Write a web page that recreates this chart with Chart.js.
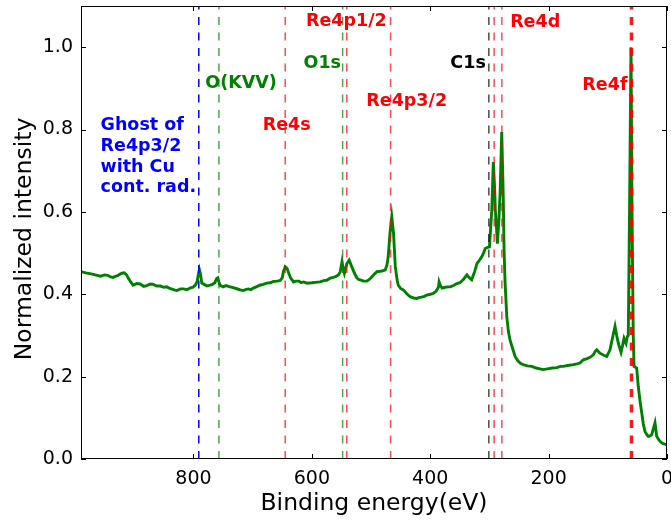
<!DOCTYPE html>
<html>
<head>
<meta charset="utf-8">
<script src="https://cdn.jsdelivr.net/npm/chart.js@4.4.1/dist/chart.umd.min.js"></script>
<style>
  html, body { margin: 0; padding: 0; background: #fff; }
  #wrap { width: 671px; height: 523px; }
</style>
</head>
<body>
<div id="wrap"><canvas id="canvas"></canvas></div>
<script>
// XPS survey spectrum
var energy = [990, 982, 975, 966, 957, 950, 945, 940, 936, 931, 928, 924, 921, 917, 913, 910, 906, 902, 896, 890, 884, 879, 873, 868, 862, 856, 850, 845, 840, 835, 831, 828, 822, 817, 811, 806, 801, 797, 794, 792, 790, 788, 786, 782, 777, 772, 768, 764, 761, 759, 757, 755, 750, 745, 741, 738, 733, 728, 722, 716, 711, 707, 703, 699, 694, 688, 682, 676, 670, 665, 659, 654, 650, 648, 645, 642, 640, 636, 631, 627, 622, 618, 614, 608, 600, 594, 586, 580, 575, 569, 564, 560, 555, 552, 549, 547, 545, 543, 541, 537, 534, 530, 527, 524, 521, 518, 513, 507, 503, 500, 495, 490, 484, 480, 476, 473, 471, 468, 465, 462, 459, 456, 454, 450, 445, 440, 434, 428, 423, 419, 415, 410, 406, 400, 395, 391, 389, 386, 385, 383, 380, 375, 370, 366, 360, 355, 350, 344, 338, 334, 330, 325, 321, 317, 313, 310, 307, 303, 300, 298, 296, 293.4, 291, 290, 288, 286.6, 284, 282, 279.2, 276.5, 275.3, 273.6, 270.7, 268, 265.2, 262.3, 259, 256.7, 251.6, 247, 242.7, 236, 228.5, 221, 214.5, 208.9, 202, 194, 186, 180, 175, 168, 158, 152, 147, 141.4, 135, 130, 124.5, 121, 118.7, 113.2, 107, 101.8, 96.3, 91.2, 87.8, 85, 82.2, 77.7, 75, 72.6, 69.2, 67, 65.4, 63.3, 60.8, 59.1, 57, 55.7, 51.2, 48.5, 45.5, 42.7, 40, 37.2, 33.5, 31.6, 28.5, 25.8, 22.8, 20.3, 17.4, 14.5, 11.8, 8, 4, 0.5];
var intensity = [0.455, 0.452, 0.450, 0.447, 0.444, 0.447, 0.446, 0.442, 0.441, 0.444, 0.445, 0.449, 0.451, 0.452, 0.447, 0.439, 0.430, 0.422, 0.426, 0.425, 0.419, 0.421, 0.425, 0.424, 0.420, 0.420, 0.417, 0.418, 0.414, 0.412, 0.410, 0.409, 0.413, 0.413, 0.411, 0.415, 0.417, 0.422, 0.430, 0.446, 0.460, 0.448, 0.427, 0.424, 0.420, 0.422, 0.424, 0.428, 0.438, 0.440, 0.430, 0.422, 0.418, 0.421, 0.419, 0.418, 0.416, 0.414, 0.411, 0.409, 0.412, 0.413, 0.411, 0.415, 0.418, 0.422, 0.424, 0.427, 0.428, 0.431, 0.432, 0.433, 0.440, 0.455, 0.467, 0.463, 0.455, 0.440, 0.430, 0.432, 0.432, 0.428, 0.430, 0.427, 0.428, 0.429, 0.430, 0.433, 0.434, 0.439, 0.441, 0.443, 0.447, 0.455, 0.479, 0.462, 0.451, 0.462, 0.474, 0.483, 0.472, 0.458, 0.448, 0.440, 0.436, 0.435, 0.432, 0.432, 0.436, 0.440, 0.448, 0.455, 0.456, 0.457, 0.459, 0.472, 0.491, 0.548, 0.588, 0.548, 0.467, 0.435, 0.422, 0.414, 0.410, 0.402, 0.394, 0.391, 0.390, 0.392, 0.393, 0.395, 0.398, 0.400, 0.402, 0.406, 0.410, 0.418, 0.430, 0.422, 0.415, 0.417, 0.418, 0.418, 0.422, 0.426, 0.428, 0.436, 0.447, 0.440, 0.435, 0.455, 0.475, 0.482, 0.491, 0.500, 0.511, 0.514, 0.515, 0.560, 0.604, 0.721, 0.650, 0.604, 0.560, 0.523, 0.580, 0.645, 0.794, 0.628, 0.510, 0.430, 0.346, 0.310, 0.289, 0.275, 0.260, 0.249, 0.238, 0.232, 0.229, 0.226, 0.225, 0.221, 0.219, 0.217, 0.219, 0.221, 0.222, 0.225, 0.225, 0.227, 0.229, 0.231, 0.233, 0.241, 0.244, 0.247, 0.253, 0.262, 0.265, 0.257, 0.252, 0.249, 0.265, 0.300, 0.322, 0.300, 0.281, 0.259, 0.276, 0.293, 0.281, 0.297, 0.300, 0.600, 1.000, 0.600, 0.300, 0.225, 0.221, 0.176, 0.140, 0.112, 0.085, 0.067, 0.058, 0.055, 0.056, 0.059, 0.075, 0.088, 0.055, 0.048, 0.043, 0.038, 0.036, 0.035];

// reference lines (binding energy) and which element they mark
var lineEnergy = [791, 757, 645, 548, 541, 467, 301, 292, 279, 60];
var lineKind = ['ghost', 'O', 'Re', 'O', 'Re', 'Re', 'C', 'Re', 'Re', 'Re4f'];

// annotations: text, left energy, baseline intensity
var labelText = ['Re4p1/2', 'Re4d', 'O1s', 'C1s', 'O(KVV)', 'Re4f', 'Re4p3/2', 'Re4s', 'Ghost of\nRe4p3/2\nwith Cu\ncont. rad.'];
var labelEnergy = [610, 265, 614, 366, 780, 143, 508, 683, 957];
var labelIntensity = [1.052, 1.05, 0.95, 0.95, 0.90, 0.897, 0.856, 0.798, 0.798];
var labelKind = ['Re', 'Re', 'O', 'C', 'O', 'Re', 'Re', 'Re', 'ghost'];

var xTicks = [0, 200, 400, 600, 800];
var yTicks = [0, 0.2, 0.4, 0.6, 0.8, 1.0];

var lineStyle = {
    ghost: { color: 'rgba(0,0,255,1)', width: 1.5 },
    O: { color: 'rgba(0,128,0,0.7)', width: 1.5 },
    Re: { color: 'rgba(255,0,0,0.7)', width: 1.5 },
    C: { color: 'rgba(0,0,0,0.7)', width: 1.5 },
    Re4f: { color: 'rgba(255,0,0,0.9)', width: 3.5 }
};
var textColor = { ghost: '#0000ff', O: '#008000', Re: '#ff0000', C: '#000000' };

var points = energy.map(function (e, i) { return { x: e, y: intensity[i] }; });

var decor = {
    id: 'decor',
    afterDatasetsDraw: function (chart) {
        var ctx = chart.ctx, a = chart.chartArea;
        var xs = chart.scales.x, ys = chart.scales.y;
        ctx.save();
        // vertical dashed lines
        lineEnergy.forEach(function (e, i) {
            var st = lineStyle[lineKind[i]];
            var px = xs.getPixelForValue(e);
            ctx.beginPath();
            ctx.setLineDash([8, 7.5]);
            ctx.strokeStyle = st.color;
            ctx.lineWidth = st.width;
            ctx.moveTo(px, a.bottom);
            ctx.lineTo(px, a.top);
            ctx.stroke();
        });
        ctx.setLineDash([]);
        // annotation texts
        ctx.font = 'bold 17.5px "DejaVu Sans"';
        ctx.textAlign = 'left';
        ctx.textBaseline = 'alphabetic';
        labelText.forEach(function (t, i) {
            ctx.fillStyle = textColor[labelKind[i]];
            var px = xs.getPixelForValue(labelEnergy[i]);
            var py = ys.getPixelForValue(labelIntensity[i]);
            t.split('\n').forEach(function (line, k) {
                ctx.fillText(line, px, py + k * 20.7);
            });
        });
        ctx.restore();
    },
    afterDraw: function (chart) {
        var ctx = chart.ctx, a = chart.chartArea;
        var xs = chart.scales.x, ys = chart.scales.y;
        ctx.save();
        ctx.strokeStyle = '#000';
        ctx.lineWidth = 1;
        ctx.strokeRect(Math.round(a.left) + 0.5, Math.round(a.top) + 0.5,
            Math.round(a.right - a.left) - 1, Math.round(a.bottom - a.top) - 1);
        ctx.beginPath();
        xTicks.forEach(function (v) {
            var px = Math.round(xs.getPixelForValue(v)) + 0.5;
            ctx.moveTo(px, a.bottom); ctx.lineTo(px, a.bottom - 5);
            ctx.moveTo(px, a.top); ctx.lineTo(px, a.top + 5);
        });
        yTicks.forEach(function (v) {
            var py = Math.round(ys.getPixelForValue(v)) + 0.5;
            ctx.moveTo(a.left, py); ctx.lineTo(a.left + 5, py);
            ctx.moveTo(a.right, py); ctx.lineTo(a.right - 5, py);
        });
        ctx.stroke();
        // axis titles
        ctx.fillStyle = '#000';
        ctx.font = '23.5px "DejaVu Sans"';
        ctx.textAlign = 'center';
        ctx.textBaseline = 'alphabetic';
        ctx.fillText('Binding energy(eV)', (a.left + a.right) / 2, 509.5);
        ctx.translate(30.5, 239);
        ctx.rotate(-Math.PI / 2);
        ctx.fillText('Normalized intensity', 0, 0);
        ctx.restore();
    }
};

var chart = new Chart(document.getElementById('canvas'), {
    type: 'line',
    data: {
        datasets: [{
            data: points,
            borderColor: '#008000',
            borderWidth: 2.9,
            pointRadius: 0,
            tension: 0,
            fill: false
        }]
    },
    options: {
        responsive: true,
        maintainAspectRatio: false,
        animation: false,
        layout: { padding: { left: 0, right: 4, top: 6, bottom: 0 } },
        plugins: { legend: { display: false }, tooltip: { enabled: false } },
        scales: {
            x: {
                type: 'linear',
                reverse: true,
                min: 0,
                max: 990,
                grid: { display: false, drawTicks: false },
                border: { display: false },
                ticks: {
                    stepSize: 200,
                    padding: 9,
                    color: '#000',
                    font: { family: 'DejaVu Sans', size: 19 },
                    maxRotation: 0
                },
                afterBuildTicks: function (s) {
                    s.ticks = xTicks.map(function (v) { return { value: v }; });
                },
                afterFit: function (s) {
                    s.height = 64;
                    s.paddingLeft = 0;
                    s.paddingRight = 0;
                }
            },
            y: {
                min: 0,
                max: 1.1,
                grid: { display: false, drawTicks: false },
                border: { display: false },
                ticks: {
                    padding: 8,
                    color: '#000',
                    font: { family: 'DejaVu Sans', size: 19 },
                    callback: function (v) { return v.toFixed(1); }
                },
                afterBuildTicks: function (s) {
                    s.ticks = yTicks.map(function (v) { return { value: v }; });
                },
                afterFit: function (s) {
                    s.width = 81;
                    s.paddingTop = 0;
                    s.paddingBottom = 0;
                }
            }
        }
    },
    plugins: [decor]
});
</script>
</body>
</html>
